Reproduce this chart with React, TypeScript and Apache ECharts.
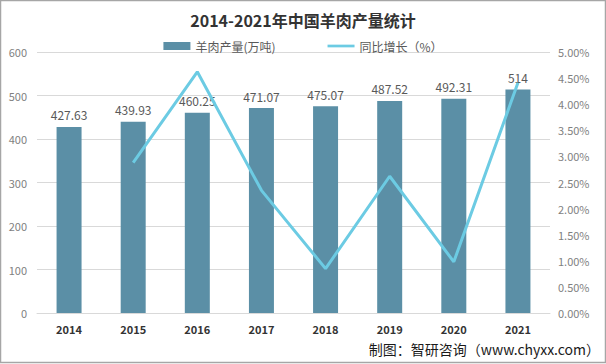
import React, { useEffect, useRef } from "react";
import * as echarts from "echarts";

const years = ["2014", "2015", "2016", "2017", "2018", "2019", "2020", "2021"];
const production = [427.63, 439.93, 460.25, 471.07, 475.07, 487.52, 492.31, 514];
const growth = [null, 2.88, 4.62, 2.35, 0.85, 2.62, 0.98, 4.41];
const leftTicks = { min: 0, max: 600, interval: 100 };
const rightTicks = { min: 0, max: 5, interval: 0.5 };

const FONT = "'Noto Sans CJK SC', 'Noto Sans', sans-serif";

export default function App() {
  const ref = useRef<HTMLDivElement>(null);
  useEffect(() => {
    const chart = echarts.init(ref.current!, null, { renderer: "svg" });
    chart.setOption({
      animation: false,
      backgroundColor: "#ffffff",
      textStyle: { fontFamily: FONT },
      title: {
        text: "2014-2021年中国羊肉产量统计",
        left: "center",
        top: 7,
        textStyle: { fontSize: 16, fontWeight: "bold", color: "#333333", fontFamily: FONT },
      },
      legend: {
        top: 35,
        left: "center",
        itemGap: 52,
        itemWidth: 27,
        itemHeight: 8,
        textStyle: { fontSize: 12, color: "#595959", fontFamily: FONT },
        data: [
          { name: "羊肉产量(万吨)", icon: "rect" },
          { name: "同比增长（%）", icon: "path://M0,0h30v3h-30z" },
        ],
      },
      grid: { left: 37, right: 56, top: 52, bottom: 51 },
      xAxis: {
        type: "category",
        data: years,
        axisLine: { lineStyle: { color: "#d9d9d9" } },
        axisTick: { show: false },
        axisLabel: { color: "#333333", fontWeight: "bold", fontSize: 11, margin: 10 },
      },
      yAxis: [
        {
          type: "value",
          ...leftTicks,
          axisLine: { show: false },
          axisTick: { show: false },
          splitLine: { lineStyle: { color: "#d9d9d9" } },
          axisLabel: { color: "#7f7f7f", fontSize: 11, margin: 10 },
        },
        {
          type: "value",
          ...rightTicks,
          position: "right",
          axisLine: { show: false },
          axisTick: { show: false },
          splitLine: { show: false },
          axisLabel: {
            color: "#7f7f7f",
            fontSize: 11,
            margin: 8,
            formatter: (v: number) => v.toFixed(2) + "%",
          },
        },
      ],
      series: [
        {
          name: "羊肉产量(万吨)",
          type: "bar",
          data: production,
          barWidth: 25,
          itemStyle: { color: "#5b8fa6" },
          label: { show: true, position: "top", color: "#595959", fontSize: 12, distance: 6 },
        },
        {
          name: "同比增长（%）",
          type: "line",
          yAxisIndex: 1,
          data: growth,
          symbol: "none",
          lineStyle: { color: "#6ccbe3", width: 3 },
          itemStyle: { color: "#6ccbe3" },
        },
      ],
      graphic: [
        {
          type: "rect",
          shape: { x: 0.5, y: 0.5, width: 605, height: 362 },
          style: { fill: "none", stroke: "#a6a6a6", lineWidth: 1.5 },
          silent: true,
        },
        {
          type: "text",
          right: 6,
          top: 342,
          style: {
            text: "制图：智研咨询（www.chyxx.com）",
            font: `14px ${FONT}`,
            fill: "#1a1a1a",
          },
        },
      ],
    });
    return () => chart.dispose();
  }, []);
  return (
    <div
      ref={ref}
      style={{ position: "absolute", left: 0, top: 0, width: 606, height: 364 }}
    />
  );
}
